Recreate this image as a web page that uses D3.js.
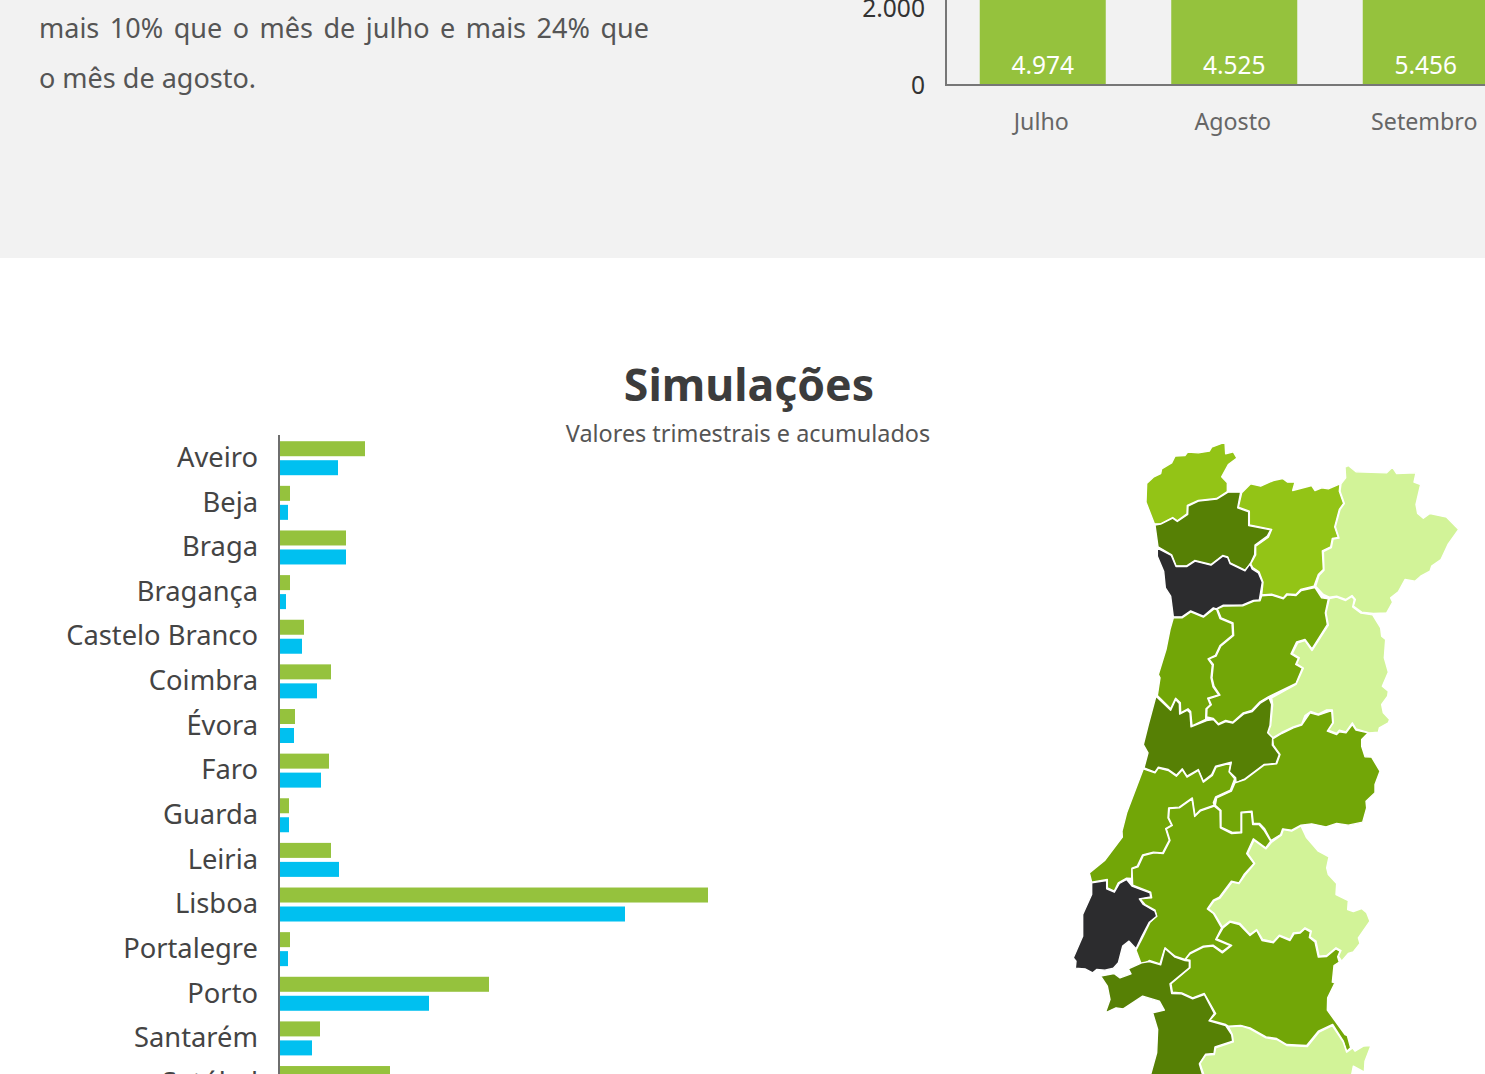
<!DOCTYPE html>
<html><head><meta charset="utf-8">
<script src="https://cdn.jsdelivr.net/npm/d3@7"></script>
<style>
html,body{margin:0;padding:0;background:#fff;overflow:hidden}
svg{display:block}
text{font-family:"Noto Sans",Lato,sans-serif}
.axis path,.axis line{display:none}
</style></head><body>
<div id="chart"></div>
<script>
// ---------- data ----------
const introLines = ["mais 10% que o mês de julho e mais 24% que", "o mês de agosto."];
const months = ["Julho", "Agosto", "Setembro"];
const monthValues = [4974, 4525, 5456];
const monthTicks = [0, 2000];
const title = "Simulações";
const subtitle = "Valores trimestrais e acumulados";
const districts = ["Aveiro","Beja","Braga","Bragança","Castelo Branco","Coimbra","Évora","Faro","Guarda","Leiria","Lisboa","Portalegre","Porto","Santarém","Setúbal"];
const trimestrais = [85,10,66,10,24,51,15,49,9,51,428,10,209,40,110];
const acumulados  = [58,8,66,6,22,37,14,41,9,59,345,8,149,32,94];

// map outlines: traced points in map units (3 units = 1 page pixel)
const viana = [[283,283],[258,218],[260,162],[280,143],[302,132],[305,118],[335,100],[345,80],[375,78],[383,68],[415,70],[448,65],[455,53],[495,38],[497,73],[520,67],[531,86],[505,105],[485,142],[502,160],[502,186],[470,207],[415,213],[382,228],[381,253],[352,274],[338,264],[302,283]];
const braga = [[285,287],[302,284],[338,266],[352,276],[383,255],[384,230],[415,215],[470,209],[504,188],[542,188],[533,235],[566,247],[566,288],[632,301],[622,320],[585,347],[584,375],[570,405],[555,422],[510,400],[503,382],[488,378],[453,405],[404,393],[380,409],[348,409],[335,376],[294,352]];
const porto = [[292,356],[334,378],[348,411],[381,411],[405,395],[453,407],[488,380],[503,384],[510,402],[555,424],[570,403],[576,418],[595,430],[607,458],[598,511],[580,513],[548,526],[490,527],[469,538],[460,535],[430,560],[392,544],[366,562],[340,562],[332,500],[316,475],[311,425],[292,380]];
const vilaReal = [[545,190],[572,163],[602,170],[640,153],[668,147],[683,158],[705,158],[698,183],[755,168],[765,183],[785,175],[805,178],[840,163],[838,185],[851,222],[838,240],[824,292],[835,324],[817,327],[812,352],[787,364],[790,420],[775,435],[762,470],[722,480],[708,495],[680,493],[670,505],[635,494],[605,496],[609,458],[597,427],[578,414],[572,403],[587,376],[587,350],[625,323],[635,300],[568,286],[568,245],[535,233]];
const braganca = [[843,163],[857,145],[855,113],[865,108],[888,127],[980,130],[997,113],[1010,132],[1068,130],[1062,158],[1082,165],[1068,225],[1073,252],[1090,266],[1110,252],[1160,263],[1196,300],[1165,343],[1143,390],[1115,410],[1110,425],[1082,440],[1065,455],[1035,450],[1015,487],[992,505],[998,518],[980,550],[940,552],[905,548],[880,530],[886,510],[876,498],[857,510],[830,500],[808,503],[790,495],[767,470],[777,438],[792,422],[790,366],[814,354],[819,329],[837,326],[826,292],[840,240],[853,222],[840,185]];
const viseu = [[600,514],[605,499],[635,497],[670,508],[682,496],[708,498],[724,483],[765,474],[785,505],[805,508],[796,550],[802,585],[756,658],[735,630],[710,637],[693,673],[715,687],[707,705],[727,716],[708,762],[625,802],[600,817],[575,843],[550,850],[518,878],[497,873],[475,883],[460,867],[440,862],[441,838],[454,826],[446,808],[480,797],[462,770],[456,745],[460,705],[447,688],[468,680],[482,650],[521,618],[519,580],[483,565],[472,538],[490,530],[548,529],[582,515]];
const aveiro = [[340,565],[366,565],[392,547],[430,563],[462,538],[470,540],[480,567],[516,582],[518,617],[480,648],[466,678],[444,688],[457,707],[453,745],[459,772],[476,796],[443,806],[451,826],[438,838],[437,870],[396,889],[392,846],[384,838],[362,850],[361,820],[347,806],[332,838],[292,798],[300,745],[295,735],[318,660],[330,600]];
const coimbra = [[288,800],[332,842],[347,810],[358,822],[359,854],[382,842],[390,850],[393,892],[440,873],[460,870],[475,886],[497,876],[518,881],[552,853],[577,846],[602,820],[627,805],[635,825],[630,888],[623,910],[638,925],[637,947],[658,975],[648,1002],[612,1005],[555,1048],[528,1060],[527,1045],[508,1027],[514,998],[467,1010],[455,1035],[430,1055],[415,1020],[381,1040],[367,1018],[349,1037],[325,1020],[295,1013],[285,1028],[252,1015],[264,970],[250,945],[265,885]];
const leiria = [[250,1018],[285,1030],[295,1016],[325,1023],[349,1040],[367,1021],[381,1043],[415,1023],[430,1058],[457,1038],[468,1013],[512,1001],[507,1027],[524,1048],[511,1082],[467,1102],[460,1120],[463,1127],[420,1142],[405,1158],[397,1105],[358,1133],[326,1135],[324,1165],[335,1187],[317,1197],[328,1232],[308,1270],[280,1268],[248,1276],[232,1310],[216,1316],[215,1347],[200,1346],[175,1360],[163,1385],[142,1375],[142,1350],[95,1358],[88,1330],[135,1292],[187,1223],[186,1205],[200,1150]];
const santarem = [[463,1130],[480,1144],[481,1195],[515,1212],[545,1210],[545,1150],[574,1148],[578,1185],[597,1185],[612,1202],[632,1235],[617,1255],[580,1228],[560,1272],[582,1302],[552,1335],[537,1360],[514,1355],[478,1403],[460,1412],[442,1438],[460,1452],[485,1495],[467,1530],[511,1548],[487,1566],[459,1547],[430,1550],[390,1570],[375,1590],[345,1580],[315,1555],[300,1603],[268,1593],[245,1607],[228,1562],[247,1525],[270,1478],[290,1460],[285,1442],[255,1425],[240,1408],[275,1405],[272,1388],[218,1367],[216,1318],[234,1312],[250,1278],[282,1270],[310,1272],[330,1233],[319,1198],[337,1188],[326,1165],[328,1137],[358,1135],[396,1108],[404,1161],[422,1144]];
const casteloBranco = [[525,1060],[555,1050],[612,1007],[650,1003],[660,975],[640,947],[638,928],[665,912],[700,895],[725,887],[750,850],[775,857],[815,843],[818,880],[802,905],[830,915],[838,907],[858,910],[877,885],[888,902],[925,910],[905,930],[905,950],[915,982],[935,983],[960,1025],[945,1065],[945,1090],[918,1115],[920,1135],[908,1178],[865,1187],[830,1182],[798,1192],[755,1183],[723,1187],[695,1202],[668,1198],[662,1215],[633,1233],[614,1198],[599,1182],[580,1182],[576,1145],[543,1148],[543,1207],[517,1209],[483,1193],[483,1143],[466,1127],[470,1105],[514,1085]];
const guarda = [[635,805],[708,765],[730,716],[710,703],[718,685],[697,672],[713,640],[735,633],[756,663],[805,587],[798,550],[808,507],[830,503],[857,513],[876,501],[883,510],[878,532],[903,551],[938,556],[962,595],[965,620],[977,630],[973,685],[985,728],[967,770],[985,785],[983,800],[965,825],[970,850],[989,870],[985,880],[958,895],[955,908],[928,910],[888,898],[877,880],[858,907],[838,902],[830,912],[805,902],[820,880],[817,841],[800,841],[775,854],[752,846],[735,858],[725,884],[700,892],[665,909],[638,925],[623,910],[632,888],[638,825]];
const lisboa = [[95,1360],[140,1353],[140,1378],[163,1388],[178,1362],[200,1350],[216,1370],[270,1390],[272,1402],[238,1408],[250,1425],[285,1445],[290,1460],[268,1478],[245,1522],[228,1558],[207,1535],[188,1550],[175,1600],[160,1616],[135,1622],[110,1620],[98,1630],[75,1618],[46,1616],[48,1595],[40,1585],[68,1520],[68,1455],[95,1395]];
const portalegre = [[723,1189],[740,1225],[775,1265],[807,1282],[800,1315],[805,1335],[830,1362],[828,1395],[865,1413],[863,1440],[880,1446],[905,1437],[920,1450],[930,1475],[895,1525],[900,1542],[880,1567],[865,1572],[845,1595],[835,1580],[843,1563],[828,1555],[800,1578],[777,1580],[768,1535],[750,1522],[754,1505],[735,1495],[720,1508],[700,1510],[690,1530],[658,1517],[640,1537],[608,1530],[590,1500],[570,1515],[540,1482],[510,1475],[487,1493],[463,1452],[445,1438],[462,1414],[480,1406],[516,1358],[537,1362],[555,1337],[584,1302],[563,1272],[582,1232],[618,1258],[635,1238],[664,1217],[670,1200],[695,1205]];
const evora = [[489,1495],[510,1478],[538,1485],[570,1518],[590,1503],[606,1533],[640,1540],[658,1520],[690,1533],[702,1513],[720,1511],[735,1498],[751,1507],[748,1524],[765,1537],[775,1583],[800,1581],[828,1558],[840,1565],[833,1582],[838,1598],[822,1608],[817,1658],[825,1660],[803,1705],[802,1742],[855,1815],[862,1818],[872,1855],[860,1865],[850,1835],[818,1785],[775,1805],[740,1848],[680,1845],[650,1827],[618,1822],[570,1795],[542,1788],[505,1790],[497,1785],[450,1772],[467,1752],[433,1692],[398,1705],[365,1690],[337,1688],[333,1663],[390,1615],[390,1592],[376,1590],[390,1573],[430,1553],[459,1550],[487,1570],[515,1548],[470,1528]];
const setubal = [[122,1640],[162,1632],[180,1645],[213,1633],[205,1618],[245,1600],[268,1596],[302,1606],[315,1557],[345,1583],[375,1593],[388,1595],[388,1615],[330,1663],[335,1692],[365,1693],[398,1708],[433,1695],[463,1752],[447,1774],[497,1788],[515,1815],[518,1835],[465,1852],[462,1872],[437,1874],[418,1903],[435,1960],[265,1960],[290,1870],[293,1800],[278,1750],[313,1742],[298,1715],[248,1700],[190,1738],[168,1735],[136,1750],[150,1710],[142,1670]];
const beja = [[505,1792],[545,1790],[570,1798],[618,1825],[650,1830],[680,1848],[742,1851],[777,1808],[817,1788],[850,1838],[860,1868],[878,1855],[885,1865],[910,1850],[933,1848],[915,1895],[913,1928],[880,1910],[870,1960],[440,1960],[420,1902],[437,1877],[463,1875],[467,1855],[520,1837],[517,1815]];
const mapShapes = [viana,vilaReal,braganca,braga,porto,viseu,aveiro,guarda,coimbra,casteloBranco,leiria,santarem,portalegre,evora,lisboa,setubal,beja];
const mapClasses = [1,1,0,3,4,2,2,0,3,2,2,2,0,2,4,3,0];
const classColors = ["#d2f398","#93c416","#72a607","#568005","#2c2c2e"];

// ---------- page ----------
const svg = d3.select("#chart").append("svg").attr("width",1485).attr("height",1074);
svg.append("rect").attr("width",1485).attr("height",258).attr("fill","#f2f2f2");

// intro text (first line is justified in the reference)
svg.append("g").selectAll("text").data(introLines).join("text")
  .attr("x",39).attr("y",(d,i)=>38+i*50).attr("font-size",27).attr("fill","#555")
  .attr("word-spacing",(d,i)=>i===0?3.5:0).text(d=>d);

// top monthly bar chart
const xM = d3.scaleBand().domain(months).range([947,1521.5]).padding(0.342).paddingOuter(0.171);
const yM = d3.scaleLinear().domain([0,2000]).range([85,8]);
svg.append("g").selectAll("rect").data(months).join("rect")
  .attr("x",d=>xM(d)).attr("width",xM.bandwidth())
  .attr("y",(d,i)=>yM(monthValues[i])).attr("height",(d,i)=>yM(0)-yM(monthValues[i])).attr("fill","#95c23d");
svg.append("g").selectAll("text").data(months).join("text")
  .attr("x",d=>xM(d)+xM.bandwidth()/2).attr("y",73.5).attr("text-anchor","middle")
  .attr("font-size",24.5).attr("fill","#fff").text((d,i)=>d3.format(",")(monthValues[i]).replace(",","."));
const axY = svg.append("g").attr("class","axis").attr("transform","translate(946,0.5)")
  .call(d3.axisLeft(yM).tickValues(monthTicks).tickSize(0).tickPadding(21).tickFormat(d=>d3.format(",")(d).replace(",",".")));
axY.selectAll("text").attr("font-size",24.6).attr("fill","#333");
const axX = svg.append("g").attr("class","axis").attr("transform","translate(-1.5,85)")
  .call(d3.axisBottom(xM).tickSize(0).tickPadding(29));
axX.selectAll("text").attr("font-size",23.2).attr("fill","#666");
svg.append("line").attr("x1",946).attr("x2",946).attr("y1",0).attr("y2",86).attr("stroke","#777").attr("stroke-width",2);
svg.append("line").attr("x1",945).attr("x2",1485).attr("y1",85).attr("y2",85).attr("stroke","#777").attr("stroke-width",2);

// titles
svg.append("text").attr("x",749).attr("y",400.5).attr("text-anchor","middle").attr("font-size",44.6).attr("font-weight",700).attr("fill","#3c3c3c").text(title);
svg.append("text").attr("x",748).attr("y",442).attr("text-anchor","middle").attr("font-size",23.4).attr("fill","#555").text(subtitle);

// district bars
const yD = d3.scaleBand().domain(districts).range([435.9,435.9+districts.length*44.63]);
const ySub = d3.scaleBand().domain([0,1]).range([0,yD.bandwidth()]).paddingInner(0.21).paddingOuter(0.28);
const xD = d3.scaleLinear().domain([0,428]).range([280,708]);
[[trimestrais,"#95c23d",0],[acumulados,"#00c0f0",1]].forEach(([vals,col,k])=>{
  svg.append("g").selectAll("rect").data(districts).join("rect")
    .attr("x",xD(0)).attr("y",d=>yD(d)+ySub(k)).attr("height",ySub.bandwidth())
    .attr("width",(d,i)=>xD(vals[i])-xD(0)).attr("fill",col);
});
const axD = svg.append("g").attr("class","axis").attr("transform","translate(279,0)")
  .call(d3.axisLeft(yD).tickSize(0).tickPadding(21));
axD.selectAll("text").attr("font-size",27.3).attr("fill","#444");
svg.append("line").attr("x1",279).attr("x2",279).attr("y1",435).attr("y2",1074).attr("stroke","#6e6e6e").attr("stroke-width",2);

// map
const mapPath = d3.geoPath(d3.geoIdentity().scale(1/3).translate([1060,429.5]));
svg.append("g").selectAll("path").data(mapShapes).join("path")
  .attr("d",d=>mapPath({type:"Polygon",coordinates:[[...d,d[0]]]}))
  .attr("fill",(d,i)=>classColors[mapClasses[i]])
  .attr("stroke","#fff").attr("stroke-width",1.4).attr("stroke-linejoin","round");
</script>
</body></html>
